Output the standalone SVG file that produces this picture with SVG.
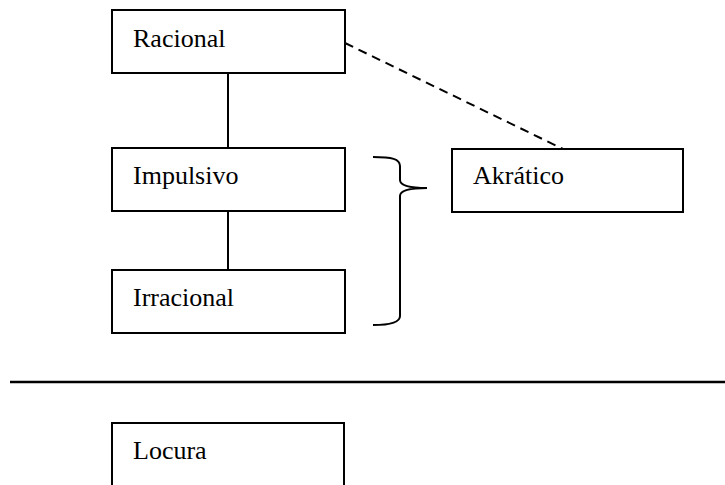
<svg xmlns="http://www.w3.org/2000/svg" width="725" height="485" viewBox="0 0 725 485">
<style>
.box{fill:#fff;stroke:#000;stroke-width:2}
.lbl{font-family:'Liberation Serif','Times New Roman','DejaVu Serif',serif;font-size:26px;fill:#000}
.ln{fill:none;stroke:#000;stroke-width:2}
.dash{fill:none;stroke:#000;stroke-width:2;stroke-dasharray:9,6}
</style>
<rect width="725" height="485" fill="#fff"/>
<g id="connectors">
<line class="ln" x1="228" y1="73" x2="228" y2="148"/>
<line class="ln" x1="228" y1="211" x2="228" y2="270"/>
<line class="dash" x1="345" y1="43" x2="563" y2="149"/>
<path class="ln" d="M373,157 C392,157 400,159 400,166 L400,180 C400,186 410,188 427,188 C410,188 400,190 400,196 L400,316 C400,322 392,325 373,325"/>
<line x1="10" y1="382" x2="725" y2="382" stroke="#000" stroke-width="2.5"/>
</g>
<g id="racional"><rect class="box" x="112" y="10" width="233" height="63"/><text class="lbl" font-family="Liberation Serif" x="133" y="47">Racional</text></g>
<g id="impulsivo"><rect class="box" x="112" y="148" width="233" height="63"/><text class="lbl" x="133" y="184">Impulsivo</text></g>
<g id="irracional"><rect class="box" x="112" y="270" width="233" height="63"/><text class="lbl" x="133" y="306">Irracional</text></g>
<g id="akratico"><rect class="box" x="452" y="149" width="231" height="63"/><text class="lbl" x="473" y="184">Akrático</text></g>
<g id="locura"><rect class="box" x="112" y="423" width="232" height="70"/><text class="lbl" x="133" y="459">Locura</text></g>
</svg>
